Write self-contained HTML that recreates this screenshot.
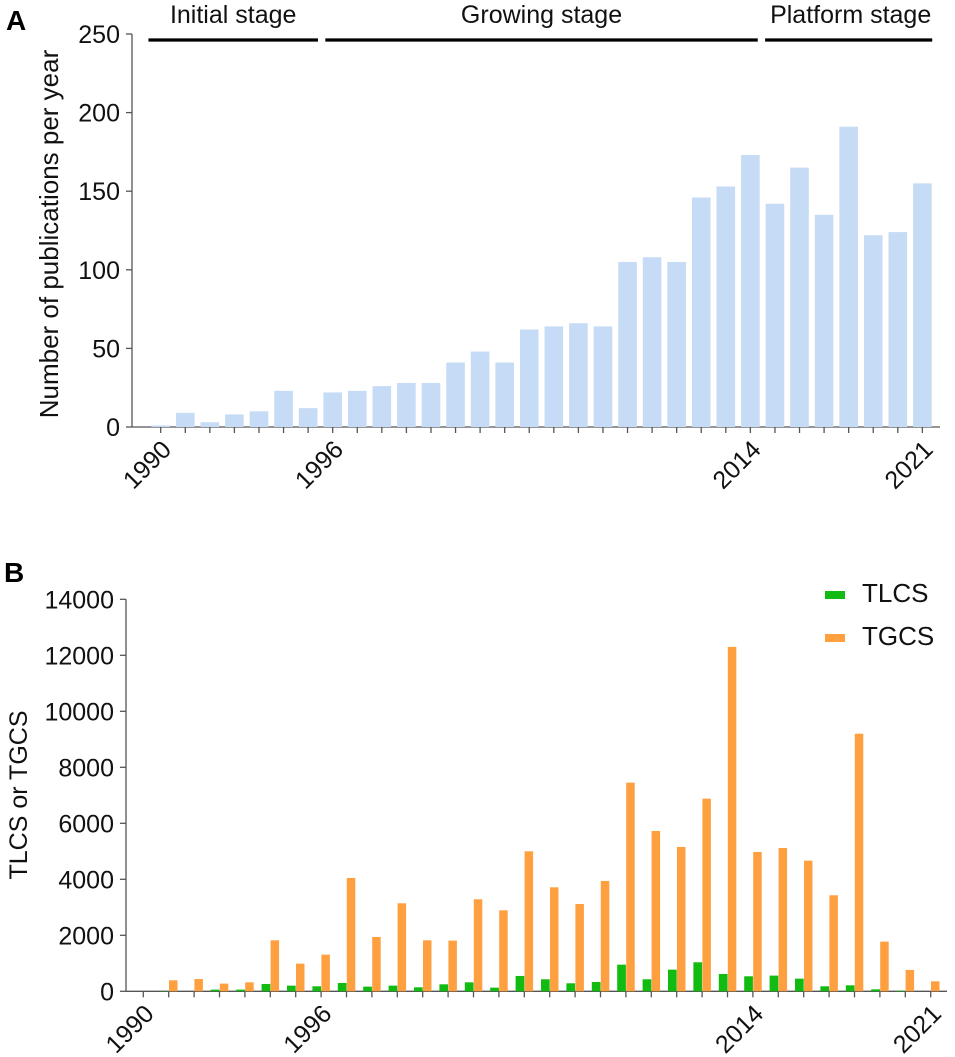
<!DOCTYPE html>
<html><head><meta charset="utf-8">
<style>
html,body{margin:0;padding:0;background:#fff;}
svg{display:block;font-family:"Liberation Sans",Arial,sans-serif;}
</style></head>
<body>
<svg id="chart" width="955" height="1057" viewBox="0 0 955 1057" xmlns="http://www.w3.org/2000/svg">
<text x="6" y="30" font-size="28" font-weight="bold">A</text>
<text x="4" y="582" font-size="28" font-weight="bold">B</text>
<g id="gA"></g>
<g id="gB"></g>
</svg>
<script>
const years = [];
for (let y = 1990; y <= 2021; y++) years.push(y);
const labeledYears = [1990, 1997, 2014, 2021];
const labeledText = ["1990", "1996", "2014", "2021"];
const pubs = [1,9,3,8,10,23,12,22,23,26,28,28,41,48,41,62,64,66,64,105,108,105,146,153,173,142,165,135,191,122,124,155];
const tlcs = [0,10,0,60,60,262,202,179,298,167,202,143,250,321,131,548,429,286,333,952,429,774,1036,619,536,560,452,179,214,71,24,0];
const tgcs = [0,393,440,274,321,1821,988,1310,4048,1940,3143,1821,1810,3286,2893,5000,3714,3119,3940,7452,5726,5155,6881,12300,4976,5119,4667,3429,9200,1774,762,357];
const ticksA = [0,50,100,150,200,250];
const ticksB = [0,2000,4000,6000,8000,10000,12000,14000];
const stages = ["Initial stage","Growing stage","Platform stage"];
const stageStart = [1989.5, 1996.7, 2014.6];
const stageEnd = [1996.4, 2014.3, 2021.4];

const NS = "http://www.w3.org/2000/svg";
function mk(parent, tag, attrs, text) {
  const e = document.createElementNS(NS, tag);
  for (const k in attrs) e.setAttribute(k, attrs[k]);
  if (text !== undefined) e.textContent = text;
  parent.appendChild(e);
  return e;
}
const gA = document.getElementById('gA');
const gB = document.getElementById('gB');

// Panel A axes
const axA = 132, baseA = 427, topA = 34;
const xA = y => 160.7 + (y - 1990) * 24.57;
const yA = v => baseA - v / 250 * (baseA - topA);
let e;
e = mk(gA, 'line', {x1: axA, y1: topA, x2: axA, y2: baseA, stroke: '#555', 'stroke-width': 1.3});


e = mk(gA, 'line', {x1: axA, y1: baseA, x2: 940, y2: baseA, stroke: '#555', 'stroke-width': 1.3});


ticksA.forEach(t => {
  mk(gA, 'line', {x1: axA - 6, y1: yA(t), x2: axA, y2: yA(t), stroke: '#555', 'stroke-width': 1.3});
  e = mk(gA, 'text', {x: axA - 12, y: yA(t) + 9, 'font-size': 25, 'text-anchor': 'end', fill: '#111'}, String(t));
  
  
});
years.forEach((yr, i) => {
  mk(gA, 'line', {x1: xA(yr), y1: baseA, x2: xA(yr), y2: baseA + 6, stroke: '#555', 'stroke-width': 1.3});
  const v = pubs[i];
  e = mk(gA, 'rect', {x: xA(yr) - 9.3, y: yA(v), width: 18.6, height: baseA - yA(v), fill: '#c6dbf5'});
  
  
});
labeledYears.forEach((yr, i) => {
  const x = xA(yr) + 12, y = baseA + 24;
  e = mk(gA, 'text', {x: x, y: y, 'font-size': 25, 'text-anchor': 'end', fill: '#111', transform: 'rotate(-45 ' + x + ' ' + y + ')'}, labeledText[i]);
  
  
});
e = mk(gA, 'text', {x: 0, y: 0, 'font-size': 26, 'text-anchor': 'middle', fill: '#111', transform: 'translate(58 234) rotate(-90)'}, 'Number of publications per year');


stages.forEach((s, i) => {
  const x1 = xA(stageStart[i]) - 0, x2 = xA(stageEnd[i]);
  e = mk(gA, 'line', {x1: x1, y1: 40, x2: x2, y2: 40, stroke: '#000', 'stroke-width': 3.2});
  
  
  e = mk(gA, 'text', {x: (x1 + x2) / 2 + (i === 2 ? 2 : 0), y: 23, 'font-size': 25, 'text-anchor': 'middle', fill: '#111'}, s);
  
  
});

// Panel B
const axB = 126, baseB = 991.3, topB = 599.3;
const xB = y => 143.3 + (y - 1990) * 25.4;
const yB = v => baseB - v / 14000 * (baseB - topB);
e = mk(gB, 'line', {x1: axB, y1: topB, x2: axB, y2: baseB, stroke: '#555', 'stroke-width': 1.3});


e = mk(gB, 'line', {x1: axB, y1: baseB, x2: 947, y2: baseB, stroke: '#555', 'stroke-width': 1.3});


ticksB.forEach(t => {
  mk(gB, 'line', {x1: axB - 6, y1: yB(t), x2: axB, y2: yB(t), stroke: '#555', 'stroke-width': 1.3});
  e = mk(gB, 'text', {x: axB - 12, y: yB(t) + 9, 'font-size': 25, 'text-anchor': 'end', fill: '#111'}, String(t));
  
  
});
years.forEach((yr, i) => {
  mk(gB, 'line', {x1: xB(yr), y1: baseB, x2: xB(yr), y2: baseB + 6, stroke: '#555', 'stroke-width': 1.3});
  e = mk(gB, 'rect', {x: xB(yr) - 8.7, y: yB(tlcs[i]), width: 8.7, height: baseB - yB(tlcs[i]), fill: '#11bb11'});
  
  
  e = mk(gB, 'rect', {x: xB(yr) + 0.3, y: yB(tgcs[i]), width: 8.5, height: baseB - yB(tgcs[i]), fill: '#ffa040'});
  
  
});
labeledYears.forEach((yr, i) => {
  const x = xB(yr) + 12, y = baseB + 24;
  e = mk(gB, 'text', {x: x, y: y, 'font-size': 25, 'text-anchor': 'end', fill: '#111', transform: 'rotate(-45 ' + x + ' ' + y + ')'}, labeledText[i]);
  
  
});
e = mk(gB, 'text', {x: 0, y: 0, 'font-size': 25, 'text-anchor': 'middle', fill: '#111', transform: 'translate(27 795) rotate(-90)'}, 'TLCS or TGCS');


e = mk(gB, 'rect', {x: 825, y: 591, width: 20, height: 8, fill: '#11bb11'});


e = mk(gB, 'text', {x: 862, y: 602, 'font-size': 26, fill: '#111'}, 'TLCS');


e = mk(gB, 'rect', {x: 825, y: 634, width: 20, height: 8, fill: '#ffa040'});


e = mk(gB, 'text', {x: 862, y: 645, 'font-size': 26, fill: '#111'}, 'TGCS');


</script>
</body></html>
